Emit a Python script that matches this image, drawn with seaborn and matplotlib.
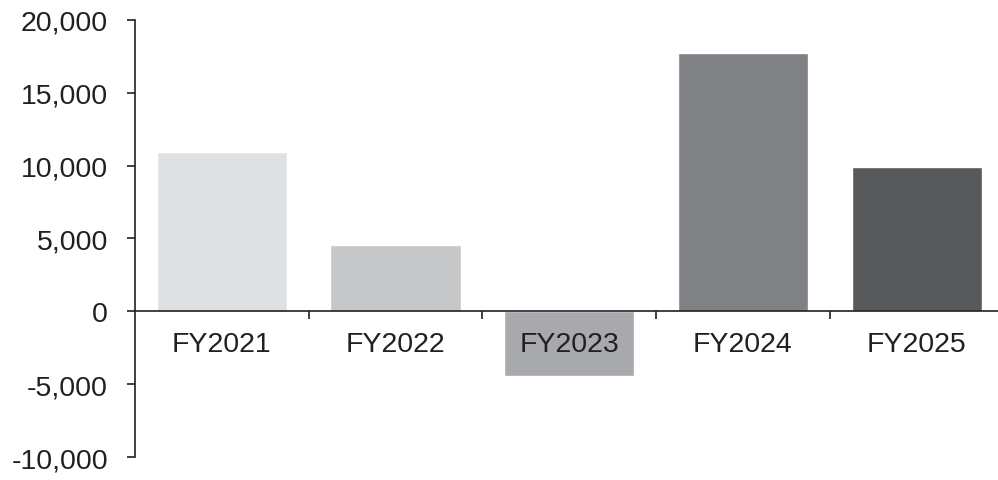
import matplotlib
matplotlib.use("Agg")
import matplotlib.pyplot as plt
from matplotlib.ticker import FixedLocator, FuncFormatter
import seaborn as sns
import pandas as pd

# Dados
years = ["FY2021", "FY2022", "FY2023", "FY2024", "FY2025"]
values = [10950, 4530, -4440, 17720, 9930]
bar_colors = ["#dfe0e2", "#c6c7c9", "#a8a9ad", "#808185", "#58595b"]

INK = "#231f20"

sns.set_theme(style="white")
plt.rcParams["font.family"] = ["Liberation Sans", "DejaVu Sans"]

df = pd.DataFrame({"year": years, "value": values})

fig = plt.figure(figsize=(9.98, 4.81), dpi=100)
ax = fig.add_axes([135 / 998, 22.7 / 481, 868.5 / 998, 437.6 / 481])

sns.barplot(data=df, x="year", y="value", hue="year", palette=bar_colors,
            width=0.75, legend=False, ax=ax, saturation=1)

ax.set_xlim(-0.5, len(years) - 0.5)
ax.set_ylim(-10000, 20000)
ax.set_yticks(range(-10000, 20001, 5000))
ax.yaxis.set_major_formatter(FuncFormatter(lambda v, _: f"{v:,.0f}"))

# Eixos: linha do zero e eixo vertical
for side in ["top", "right"]:
    ax.spines[side].set_visible(False)
ax.spines["bottom"].set_position(("data", 0))
for side in ["left", "bottom"]:
    ax.spines[side].set_color(INK)
    ax.spines[side].set_linewidth(1.2)

# rótulos por cima das barras (FY2023 fica sobre a barra negativa)
for p in ax.patches:
    p.set_zorder(0.5)
ax.set_axisbelow(False)

ax.xaxis.set_minor_locator(FixedLocator([i + 0.5 for i in range(len(years) - 1)]))
ax.tick_params(axis="x", which="major", length=0, pad=14, labelsize=20.5, labelcolor=INK)
ax.tick_params(axis="x", which="minor", bottom=True, direction="out", length=6,
               width=1.2, color=INK)
ax.tick_params(axis="y", which="major", left=True, direction="out", length=5.5,
               width=1.2, color=INK, pad=14, labelsize=20.5, labelcolor=INK)

ax.set_xlabel("")
ax.set_ylabel("")
ax.grid(False)

fig.savefig("out.png", dpi=100)
